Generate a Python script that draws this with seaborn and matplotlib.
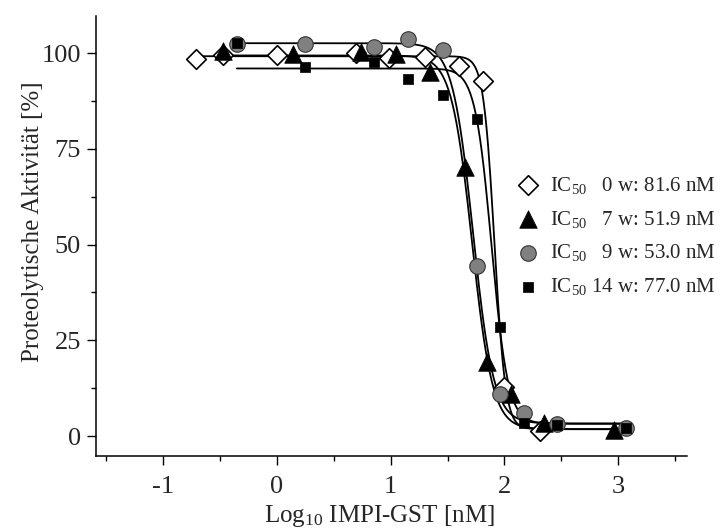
import numpy as np
import pandas as pd
import matplotlib
matplotlib.use("Agg")
import matplotlib.pyplot as plt
import seaborn as sns
from matplotlib.ticker import MultipleLocator

# measured points, log10 concentration [nM] vs activity [%]
x_0w = [-0.71, -0.47, 0.0, 0.70, 0.99, 1.30, 1.60, 1.81, 2.00, 2.31]
y_0w = [98.4, 99.5, 99.5, 100.1, 98.8, 99.0, 96.7, 92.7, 12.9, 1.3]
x_7w = [-0.47, 0.14, 0.74, 1.05, 1.35, 1.65, 1.85, 2.06, 2.35, 2.96]
y_7w = [100.6, 99.9, 100.3, 99.8, 95.1, 70.3, 19.4, 11.0, 3.3, 1.6]
x_9w = [-0.35, 0.25, 0.85, 1.15, 1.46, 1.76, 1.96, 2.17, 2.46, 3.07]
y_9w = [102.4, 102.5, 101.5, 103.8, 100.8, 44.4, 11.0, 6.1, 3.2, 2.1]
x_14w = [-0.35, 0.25, 0.85, 1.15, 1.46, 1.76, 1.96, 2.17, 2.46, 3.07]
y_14w = [102.6, 96.4, 97.7, 93.2, 89.0, 82.8, 28.5, 3.4, 3.0, 2.0]

# 4PL fit parameters
ic50_nm = [81.6, 51.9, 53.0, 77.0]
fit_top = [99.2, 99.4, 102.6, 96.0]
fit_bottom = [1.8, 1.8, 3.3, 3.2]
fit_hill = [9.0, 4.8, 4.8, 6.0]
curve_end = 3.07

labels = ["IC$_{50}$   0 w: 81.6 nM", "IC$_{50}$   7 w: 51.9 nM",
          "IC$_{50}$   9 w: 53.0 nM", "IC$_{50}$ 14 w: 77.0 nM"]

sns.set_theme(style="ticks")
plt.rcParams["font.family"] = ["Liberation Serif", "DejaVu Serif"]
plt.rcParams["mathtext.fontset"] = "custom"
plt.rcParams["mathtext.rm"] = "Liberation Serif"
plt.rcParams["mathtext.it"] = "Liberation Serif:italic"
plt.rcParams["mathtext.default"] = "regular"
plt.rcParams["axes.unicode_minus"] = False

fig = plt.figure(figsize=(7.21, 5.28), dpi=100)
ax = fig.add_axes([0.1327, 0.1364, 0.8197, 0.8333])

series = [(x_0w, y_0w), (x_7w, y_7w), (x_9w, y_9w), (x_14w, y_14w)]
styles = [
    dict(marker="D", s=100, color="white", edgecolor="black", linewidth=1.2),
    dict(marker="^", s=160, color="black", edgecolor="black", linewidth=0.5),
    dict(marker="o", s=125, color="#808080", edgecolor="#333333", linewidth=0.8),
    dict(marker="s", s=50, color="black", edgecolor="black", linewidth=0.5),
]

# fitted curves first
for i, (xs, ys) in enumerate(series):
    xc = np.linspace(min(xs), curve_end, 400)
    yc = fit_bottom[i] + (fit_top[i] - fit_bottom[i]) / (
        1 + 10 ** ((xc - np.log10(ic50_nm[i])) * fit_hill[i]))
    sns.lineplot(x=xc, y=yc, ax=ax, color="black", linewidth=1.3,
                 estimator=None, sort=False, zorder=2)

for i, (xs, ys) in enumerate(series):
    df = pd.DataFrame({"x": xs, "y": ys})
    sns.scatterplot(data=df, x="x", y="y", ax=ax, label=labels[i],
                    zorder=3 + i, **styles[i])

ax.set_xlim(-1.59, 3.6)
ax.set_ylim(-5.2, 109.7)
ax.xaxis.set_major_locator(MultipleLocator(1))
ax.xaxis.set_minor_locator(MultipleLocator(0.5))
ax.yaxis.set_major_locator(MultipleLocator(25))
ax.yaxis.set_minor_locator(MultipleLocator(12.5))
ax.tick_params(which="major", length=6.5, width=1.0, labelsize=19, color="black")
ax.tick_params(axis="x", which="major", pad=8)
ax.tick_params(axis="y", which="major", pad=4)
ax.tick_params(which="minor", length=3.5, width=1.0, color="black")
for side in ["top", "right"]:
    ax.spines[side].set_visible(False)
for side in ["left", "bottom"]:
    ax.spines[side].set_linewidth(1.1)
    ax.spines[side].set_color("black")

ax.set_xlabel("Log$_{10}$ IMPI-GST [nM]", fontsize=18)
ax.set_ylabel("Proteolytische Aktivität [%]", fontsize=18)
ax.xaxis.set_label_coords(0.481, -0.107)
ax.yaxis.set_label_coords(-0.087, 0.532)

ax.legend(loc="center left", bbox_to_anchor=(0.7146, 0.5), frameon=False,
          fontsize=15, handlelength=1.0, handletextpad=0.55,
          borderpad=0, borderaxespad=0, labelspacing=0.62)

fig.savefig("out.png", dpi=100)
